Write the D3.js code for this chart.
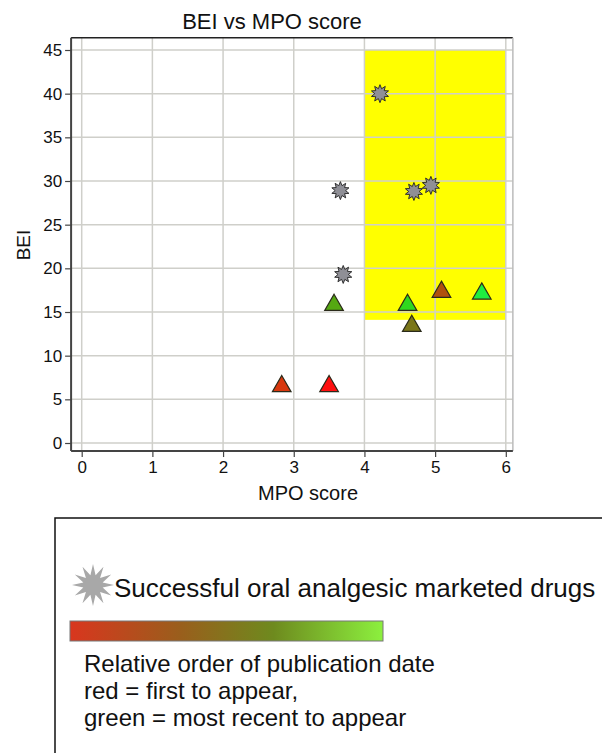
<!DOCTYPE html>
<html>
<head>
<meta charset="utf-8">
<script src="https://cdn.jsdelivr.net/npm/d3@7"></script>
<style>
  html, body { margin: 0; padding: 0; background: #fff; }
  svg { display: block; font-family: "Liberation Sans", Arial, Helvetica, sans-serif; }
</style>
</head>
<body>
<svg id="chart" width="602" height="753"></svg>
<script>
// Marketed oral analgesics (grey stars)
const drugMPO = [4.22, 3.66, 4.70, 4.94, 3.70];
const drugBEI = [40.0, 28.9, 28.8, 29.5, 19.3];

// Published compounds (triangles), coloured by relative publication order
const cmpdMPO = [2.83, 3.50, 3.57, 4.61, 4.67, 5.09, 5.66];
const cmpdBEI = [6.5, 6.5, 15.8, 15.8, 13.4, 17.3, 17.1];
const cmpdColor = ["#d8380e", "#ff1010", "#55a812", "#2fd81e", "#7a761a", "#b0520e", "#1fee40"];

// Desirable region
const zoneMPO = [4, 6];
const zoneBEI = [14.1, 45];

const xTicks = [0, 1, 2, 3, 4, 5, 6];
const yTicks = [0, 5, 10, 15, 20, 25, 30, 35, 40, 45];

const legendLines = [
  "Relative order of publication date",
  "red = first to appear,",
  "green = most recent to appear"
];

const svg = d3.select("#chart");

const x = d3.scaleLinear().domain([0, 6]).range([81.7, 505.8]);
const y = d3.scaleLinear().domain([0, 45]).range([443, 50]);

const pL = x(-0.15), pR = x(6.1), pT = y(46.4), pB = y(-0.92);

// star path generator
function starPath(n, ro, ri) {
  const pts = [];
  for (let i = 0; i < 2 * n; i++) {
    const r = i % 2 === 0 ? ro : ri;
    const a = Math.PI * i / n - Math.PI / 2;
    pts.push([r * Math.cos(a), r * Math.sin(a)]);
  }
  return d3.line()(pts) + "Z";
}

// yellow zone
svg.append("rect")
  .attr("x", x(zoneMPO[0])).attr("y", y(zoneBEI[1]))
  .attr("width", x(zoneMPO[1]) - x(zoneMPO[0]))
  .attr("height", y(zoneBEI[0]) - y(zoneBEI[1]))
  .attr("fill", "#ffff00");

// grid
const grid = svg.append("g").attr("stroke", "#cfcfca").attr("stroke-width", 1.5);
grid.selectAll(".gx").data(xTicks).join("line")
  .attr("x1", d => x(d)).attr("x2", d => x(d)).attr("y1", pT).attr("y2", pB);
grid.selectAll(".gy").data(yTicks).join("line")
  .attr("x1", pL).attr("x2", pR).attr("y1", d => y(d)).attr("y2", d => y(d));

// frame
svg.append("line").attr("x1", pL).attr("x2", pR).attr("y1", pT).attr("y2", pT)
  .attr("stroke", "#222").attr("stroke-width", 1.5);
svg.append("line").attr("x1", pR).attr("x2", pR).attr("y1", pT).attr("y2", pB)
  .attr("stroke", "#bbb").attr("stroke-width", 1.5);

// axes
const xAxis = svg.append("g").attr("transform", `translate(0,${pB})`)
  .call(d3.axisBottom(x).tickValues(xTicks).tickSize(6).tickSizeOuter(0).tickFormat(d3.format("d")));
xAxis.select(".domain").attr("d", `M${pL},0H${pR}`);
const yAxis = svg.append("g").attr("transform", `translate(${pL},0)`)
  .call(d3.axisLeft(y).tickValues(yTicks).tickSize(6).tickSizeOuter(0).tickFormat(d3.format("d")));
yAxis.select(".domain").attr("d", `M0,${pT}V${pB}`);
[xAxis, yAxis].forEach(g => {
  g.select(".domain").attr("stroke", "#444").attr("stroke-width", 2);
  g.selectAll(".tick line").attr("stroke", "#444").attr("stroke-width", 1.2);
  g.selectAll(".tick text").attr("fill", "#111").style("font-size", "17px")
    .style("font-family", "'Liberation Sans', Arial, sans-serif");
});
yAxis.selectAll(".tick text").attr("x", -9);
xAxis.selectAll(".tick text").attr("y", 10);

// titles
svg.append("text").attr("x", 272).attr("y", 29).attr("text-anchor", "middle")
  .style("font-size", "22px").attr("fill", "#111").text("BEI vs MPO score");
svg.append("text").attr("x", 308).attr("y", 500).attr("text-anchor", "middle")
  .style("font-size", "20px").attr("fill", "#111").text("MPO score");
svg.append("text").attr("transform", "translate(30,245) rotate(-90)").attr("text-anchor", "middle")
  .style("font-size", "19px").attr("fill", "#111").text("BEI");

// stars
svg.append("g").selectAll("path").data(drugMPO).join("path")
  .attr("transform", (d, i) => `translate(${x(d)},${y(drugBEI[i])})`)
  .attr("d", starPath(10, 9, 5.2))
  .attr("fill", "#8f8f96").attr("stroke", "#222").attr("stroke-width", 0.9);

// triangles
const tri = d3.symbol().type(d3.symbolTriangle).size(150);
svg.append("g").selectAll("path").data(cmpdMPO).join("path")
  .attr("transform", (d, i) => `translate(${x(d)},${y(cmpdBEI[i])})`)
  .attr("d", tri)
  .attr("fill", (d, i) => cmpdColor[i]).attr("stroke", "#2a2a1a").attr("stroke-width", 1.2);

// legend
const lg = svg.append("g");
lg.append("path").attr("d", `M55,753V518H604V753`).attr("fill", "none")
  .attr("stroke", "#111").attr("stroke-width", 1.5);
lg.append("path").attr("transform", "translate(93,585)")
  .attr("d", starPath(12, 21, 10)).attr("fill", "#a8a8a8");
lg.append("text").attr("x", 114).attr("y", 597).style("font-size", "26px").attr("fill", "#111")
  .text("Successful oral analgesic marketed drugs");

const grad = svg.append("defs").append("linearGradient").attr("id", "pubOrder");
grad.selectAll("stop").data([["0%", "#d9361e"], ["35%", "#9a5e1c"], ["65%", "#6e8a1e"], ["100%", "#8cf03e"]])
  .join("stop").attr("offset", d => d[0]).attr("stop-color", d => d[1]);
lg.append("rect").attr("x", 70).attr("y", 621).attr("width", 313).attr("height", 20)
  .attr("fill", "url(#pubOrder)").attr("stroke", "#777").attr("stroke-width", 1);

lg.selectAll(".ll").data(legendLines).join("text")
  .attr("x", 84).attr("y", (d, i) => 672 + i * 27)
  .style("font-size", "24px").attr("fill", "#111").text(d => d);
</script>
</body>
</html>
